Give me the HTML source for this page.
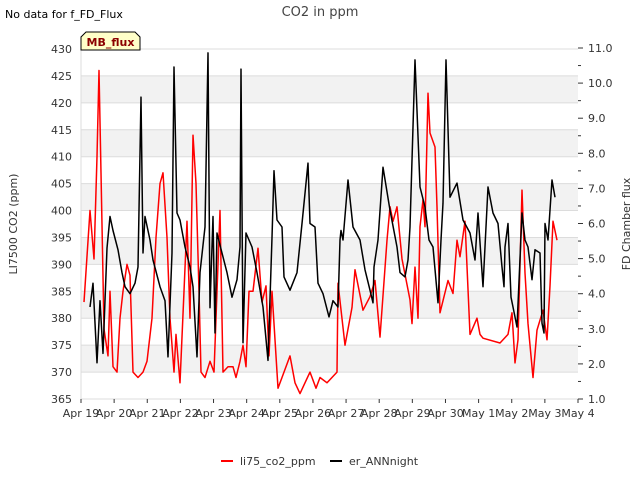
<!DOCTYPE html>
<html><head><meta charset="utf-8"><style>
body{margin:0;background:#fff;font-family:"Liberation Sans","DejaVu Sans",sans-serif;}
svg text{font-family:"DejaVu Sans","Liberation Sans",sans-serif;}
</style></head><body>
<svg id="c" width="640" height="480" viewBox="0 0 640 480" xmlns="http://www.w3.org/2000/svg">
<rect width="640" height="480" fill="#fff"/>
<text x="320" y="16" text-anchor="middle" font-size="13" fill="#444">CO2 in ppm</text>
<text x="5" y="18" font-size="11" fill="#000">No data for f_FD_Flux</text>
<g id="bands"></g>
<g id="axes"></g>
<g id="series"></g>
<g>
<path d="M81,50 L81,37 L86,32 L135,32 L140,37 L140,50 Z" fill="#ffffc8" stroke="#000" stroke-width="1"/>
<text x="110.5" y="46" text-anchor="middle" font-size="11" font-weight="bold" fill="#8b0000">MB_flux</text>
</g>
<text transform="translate(17,224) rotate(-90)" text-anchor="middle" font-size="11" fill="#333">LI7500 CO2 (ppm)</text>
<text transform="translate(630,224) rotate(-90)" text-anchor="middle" font-size="11" fill="#333">FD Chamber flux</text>
<g>
<g><line x1="221" y1="461" x2="233" y2="461" stroke="#f00" stroke-width="2"/><text x="240" y="465" font-size="11" fill="#333">li75_co2_ppm</text></g>
<g><line x1="330" y1="461" x2="342" y2="461" stroke="#000" stroke-width="2"/><text x="349" y="465" font-size="11" fill="#333">er_ANNnight</text></g>
</g>
</svg>
<script>
const xTickLabels=["Apr 19","Apr 20","Apr 21","Apr 22","Apr 23","Apr 24","Apr 25","Apr 26","Apr 27","Apr 28","Apr 29","Apr 30","May 1","May 2","May 3","May 4"];
const leftTicks=[365,370,375,380,385,390,395,400,405,410,415,420,425,430];
const rightTicks=[1,2,3,4,5,6,7,8,9,10,11];
const redX=[84,90,94,97,99,101,104,108,110,113,117,120,123,127,130,133,138,143,147,152,156,160,163,167,170,174,176,180,184,187,190,193,196,199,201,205,210,214,217,220,223,228,233,236,240,243,246,249,253,258,262,266,269,272,278,282,290,295,300,305,310,316,320,327,337,338,345,352,355,363,370,375,380,387,390,393,397,402,410,412,415,418,420,423,425,428,430,435,437,440,448,453,457,460,465,470,477,480,483,500,508,512,515,518,522,525,528,533,537,543,547,550,553,557];
const redPpm=[383,400,391,410,426,407,378,373,385,371,370,380,385,390,388,370,369,370,372,380,395,405,407,395,380,370,377,368,385,398,380,414,405,385,370,369,372,370,385,400,370,371,371,369,372,375,371,385,385,393,383,386,373,385,367,369,373,368,366,368,370,367,369,368,370,386.5,375,382,389,381.5,384,387,376.5,394.5,400.7,398,400.7,391,383.4,379,389.5,380,397,402,397,421.8,414.4,411.8,400.7,381,387,384.6,394.5,391.4,398,377,380,377,376.3,375.4,377,381,371.7,376,403.8,388.4,379,369,377.8,381.5,376,386,398,394.5];
const blackX=[90,93,97,100,103,107,110,113,118,122,125,130,135,138,141,143,145,150,153,160,165,168,172,174,177,180,185,190,193,197,200,205,208,210,213,215,217,222,227,232,237,240,241,243,246,252,257,263,268,272,274,277,282,284,290,297,302,308,310,315,318,323,329,333,338,340,341,343,348,353,360,365,370,373,374,378,383,390,397,400,405,408,410,415,420,425,429,433,438,441,443,446,450,457,463,470,475,478,483,488,493,498,502,504,505,508,511,513,517,522,525,528,532,535,540,542,544,545,548,552,555];
const blackFlux=[3.62,4.3,2.03,3.8,2.3,5.3,6.2,5.8,5.25,4.6,4.2,4.0,4.3,4.76,9.6,5.16,6.2,5.53,4.96,4.2,3.8,2.2,5.16,10.46,6.3,6.1,5.33,4.76,4.2,2.2,4.6,5.9,10.86,3.6,6.2,2.88,5.73,5.16,4.6,3.9,4.4,5.33,10.4,2.6,5.73,5.33,4.6,3.62,2.1,5.6,7.5,6.1,5.9,4.48,4.1,4.6,6.0,7.72,6.0,5.9,4.3,4.0,3.34,3.8,3.62,5.53,5.8,5.53,7.24,5.9,5.53,4.68,4.1,3.74,4.76,5.53,7.6,6.38,5.33,4.6,4.48,4.96,5.9,10.66,7.04,6.47,5.53,5.33,3.74,5.53,6.58,10.66,6.75,7.15,6.1,5.73,4.96,6.3,4.2,7.04,6.3,6.0,4.76,4.2,5.33,6.0,3.9,3.62,3.05,6.3,5.53,5.33,4.4,5.25,5.16,3.16,2.88,6.0,5.53,7.24,6.75,5.9,5.73];
const X0=81,X1=578,YT=49,YB=399;
const dayW=(X1-X0)/15;
const xd=d=>X0+d*dayW;
const xp=px=>(px-X0)/dayW;
const yl=v=>YB-(v-365)/(430-365)*(YB-YT);
const yr=v=>399-(v-1)/10*(399-48);
const NS="http://www.w3.org/2000/svg";
function mk(t,a,p){const e=document.createElementNS(NS,t);for(const k in a)e.setAttribute(k,a[k]);p.appendChild(e);return e;}
const bands=document.getElementById('bands'),axes=document.getElementById('axes'),series=document.getElementById('series');
for(let i=0;i<leftTicks.length-1;i++){
  const v=leftTicks[i];
  if(i%2===1){const r=mk('rect',{x:X0,y:yl(v+5),width:X1-X0,height:yl(v)-yl(v+5),fill:'#f2f2f2'},bands);
  
  }
}
leftTicks.forEach(v=>{
  const l=mk('line',{x1:X0,x2:X1,y1:yl(v),y2:yl(v),stroke:'#dcdcdc','stroke-width':1},bands);
  
  
  const t=mk('text',{x:72,y:yl(v)+4,'text-anchor':'end','font-size':11,fill:'#333'},axes);t.textContent=v;
  
  
});
mk('line',{x1:X0,x2:X0,y1:YT,y2:YB,stroke:'#dcdcdc'},bands);
rightTicks.forEach(v=>{
  mk('line',{x1:X1,x2:X1+5,y1:yr(v),y2:yr(v),stroke:'#333'},axes);
  if(v<11)mk('line',{x1:X1,x2:X1+3,y1:yr(v+0.5),y2:yr(v+0.5),stroke:'#333'},axes);
  const t=mk('text',{x:588,y:yr(v)+4,'font-size':11,fill:'#333'},axes);t.textContent=v.toFixed(1);
  
  
});
xTickLabels.forEach((s,i)=>{
  mk('line',{x1:xd(i),x2:xd(i),y1:YB,y2:YB+4,stroke:'#333'},axes);
  const t=mk('text',{x:xd(i),y:417,'text-anchor':'middle','font-size':11,fill:'#333'},axes);t.textContent=s;
  
  
});
const pr=redX.map((px,i)=>xd(xp(px)).toFixed(1)+','+yl(redPpm[i]).toFixed(1)).join(' ');
const r=mk('polyline',{points:pr,fill:'none',stroke:'#f00','stroke-width':1.5,'stroke-linejoin':'round'},series);


const pb=blackX.map((px,i)=>xd(xp(px)).toFixed(1)+','+yr(blackFlux[i]).toFixed(1)).join(' ');
const b=mk('polyline',{points:pb,fill:'none',stroke:'#000','stroke-width':1.5,'stroke-linejoin':'round'},series);


</script>
</body></html>
